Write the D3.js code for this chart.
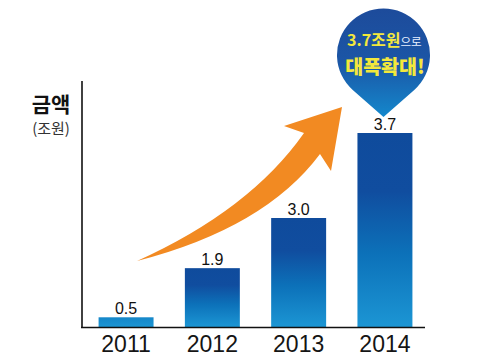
<!DOCTYPE html>
<html><head><meta charset="utf-8">
<script src="https://cdn.jsdelivr.net/npm/d3@7"></script>
<style>
html,body{margin:0;padding:0;background:#fff;}
svg{display:block;}
</style></head>
<body>
<svg id="chart" width="483" height="362"></svg>
<script>
// ---- data ----
const years = ["2011", "2012", "2013", "2014"];
const values = [0.5, 1.9, 3.0, 3.7];
const valueLabels = ["0.5", "1.9", "3.0", "3.7"];
const yTitle = "금액";
const yUnit = "(조원)";
const calloutLine1 = "3.7조원";
const calloutLine1b = "으로";
const calloutLine2 = "대폭확대!";

const svg = d3.select("#chart");
const defs = svg.append("defs");
const baseY = 327;

// x scale
const x = d3.scaleBand().domain(years).range([84, 427]).paddingInner(0.363).paddingOuter(0.169);
// y scale (infographic, non-proportional: power scale, broken at the top)
const y = d3.scalePow().exponent(1.35).domain([0, 3.0, 3.7]).range([baseY, 218, 133]);

// gradients per bar
years.forEach((yr, i) => {
  const top = y(values[i]);
  const g = defs.append("linearGradient").attr("id", "bg" + i)
    .attr("gradientUnits", "userSpaceOnUse")
    .attr("x1", 0).attr("x2", 0)
    .attr("y1", Math.min(top, baseY - 60)).attr("y2", baseY);
  g.append("stop").attr("offset", 0).attr("stop-color", "#0f4b9c");
  g.append("stop").attr("offset", 0.3).attr("stop-color", "#104d9f");
  g.append("stop").attr("offset", 0.62).attr("stop-color", "#0c71b9");
  g.append("stop").attr("offset", 1).attr("stop-color", "#1c96d4");
});

// bars
svg.selectAll("rect.bar").data(values).enter().append("rect")
  .attr("class", "bar")
  .attr("x", (d, i) => x(years[i]))
  .attr("width", x.bandwidth())
  .attr("y", d => y(d))
  .attr("height", d => baseY - y(d))
  .attr("fill", (d, i) => "url(#bg" + i + ")");

// value labels
svg.selectAll("text.val").data(values).enter().append("text")
  .attr("class", "val")
  .attr("x", (d, i) => x(years[i]) + x.bandwidth() / 2)
  .attr("y", d => y(d) - 3)
  .attr("text-anchor", "middle")
  .attr("font-family", "'Liberation Sans', Arial, sans-serif")
  .attr("font-size", 16)
  .attr("fill", "#111")
  .text((d, i) => valueLabels[i]);

// x axis
const xAxis = svg.append("g").attr("transform", `translate(0,${baseY})`)
  .call(d3.axisBottom(x).tickSize(0).tickPadding(0));
xAxis.select(".domain").remove();
xAxis.selectAll("text")
  .attr("y", 25)
  .attr("dy", 0)
  .attr("font-family", "'Liberation Sans Narrow', 'Arial Narrow', 'Liberation Sans', sans-serif")
  .attr("font-size", 23)
  .attr("fill", "#151515");

// axis lines
svg.append("line").attr("x1", 82).attr("x2", 82).attr("y1", 81).attr("y2", baseY + 1)
  .attr("stroke", "#111").attr("stroke-width", 1.6);
svg.append("line").attr("x1", 81).attr("x2", 425).attr("y1", baseY + 0.5).attr("y2", baseY + 0.5)
  .attr("stroke", "#111").attr("stroke-width", 1.6);

// y title
svg.append("text").attr("x", 51).attr("y", 112).attr("text-anchor", "middle")
  .attr("font-family", "'Noto Sans CJK KR', sans-serif").attr("font-weight", 700)
  .attr("font-size", 21).attr("fill", "#111").text(yTitle);
svg.append("text").attr("x", 51).attr("y", 134).attr("text-anchor", "middle")
  .attr("font-family", "'Noto Sans CJK KR', sans-serif")
  .attr("font-size", 15).attr("fill", "#333").text(yUnit);

// orange growth arrow
const ap = d3.path();
ap.moveTo(137, 261);
ap.quadraticCurveTo(250, 210, 304, 133);
ap.lineTo(284, 126);
ap.lineTo(342, 107);
ap.lineTo(331, 171);
ap.lineTo(320, 154);
ap.quadraticCurveTo(265, 228, 137, 261);
ap.closePath();
svg.append("path").attr("d", ap.toString()).attr("fill", "#f28a22");

// callout pin
const pg = defs.append("linearGradient").attr("id", "pin")
  .attr("x1", 0).attr("x2", 0).attr("y1", 0).attr("y2", 1);
pg.append("stop").attr("offset", 0).attr("stop-color", "#1d4b9b");
pg.append("stop").attr("offset", 0.5).attr("stop-color", "#1b56a6");
pg.append("stop").attr("offset", 1).attr("stop-color", "#1488cc");
const cx = 383.5, cy = 55, r = 46.5, tipY = 117;
const d = tipY - cy;
const th = Math.acos(r / d);
const pp = d3.path();
pp.moveTo(cx, tipY);
pp.lineTo(cx - r * Math.sin(th), cy + r * Math.cos(th));
pp.arc(cx, cy, r, Math.PI / 2 + th, Math.PI / 2 - th + 2 * Math.PI);
pp.closePath();
svg.append("path").attr("d", pp.toString()).attr("fill", "url(#pin)");

const t1 = svg.append("text").attr("x", 347).attr("y", 46)
  .attr("font-family", "'Noto Sans CJK KR', sans-serif").attr("font-weight", 700);
t1.append("tspan").attr("font-size", 16).attr("fill", "#f3e83c").text(calloutLine1);
t1.append("tspan").attr("font-size", 11.5).attr("font-weight", 400).attr("fill", "#e8f0ff").text(calloutLine1b);
svg.append("text").attr("x", 385).attr("y", 74).attr("text-anchor", "middle")
  .attr("font-family", "'Noto Sans CJK KR', sans-serif").attr("font-weight", 900)
  .attr("font-size", 19.5).attr("fill", "#f3e83c").text(calloutLine2);
</script>
</body></html>
